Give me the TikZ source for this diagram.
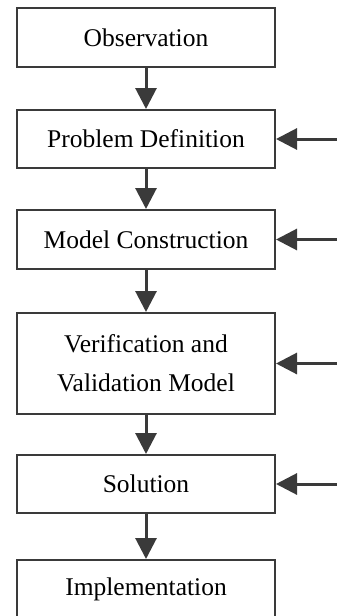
\documentclass[tikz,border=0pt]{standalone}
\usepackage{fontspec}
\setmainfont{Liberation Serif}
\usepackage{xcolor}
\definecolor{ink}{RGB}{58,58,58}
\usetikzlibrary{arrows.meta, positioning}

\begin{document}
\begin{tikzpicture}[x=1pt, y=-1pt,
    stage/.style={draw=ink, line width=2pt, fill=white, minimum width=258pt,
                  minimum height=59pt, inner sep=0pt, align=center,
                  font=\fontsize{25.5}{39}\selectfont},
    flow/.style={-{Triangle[length=21pt, width=21pt]}, ink, line width=3pt}]

\useasboundingbox (0,0) rectangle (337,616);
\clip (0,0) rectangle (337,616);

% ===== Stages =====
\node[stage] (obs)  at (146,37.5)  {Observation};
\node[stage, minimum height=58pt] (prob) at (146,139) {Problem Definition};
\node[stage] (model) at (146,239.5) {Model Construction};
\node[stage, minimum height=101pt] (verif) at (146,363.5) {Verification and\\Validation Model};
\node[stage, minimum height=58pt] (sol) at (146,484) {Solution};
\node[stage] (impl) at (146,589.5) {Implementation};

% ===== Downward flow =====
\draw[flow] (obs) -- (prob);
\draw[flow] (prob) -- (model);
\draw[flow] (model) -- (verif);
\draw[flow] (verif) -- (sol);
\draw[flow] (sol) -- (impl);

% ===== Feedback from the right =====
\foreach \n in {prob, model, verif, sol} {
  \coordinate (\n-in) at (337,0 |- \n.east);
  \draw[flow] (\n-in) -- (\n.east);
}

\end{tikzpicture}
\end{document}
